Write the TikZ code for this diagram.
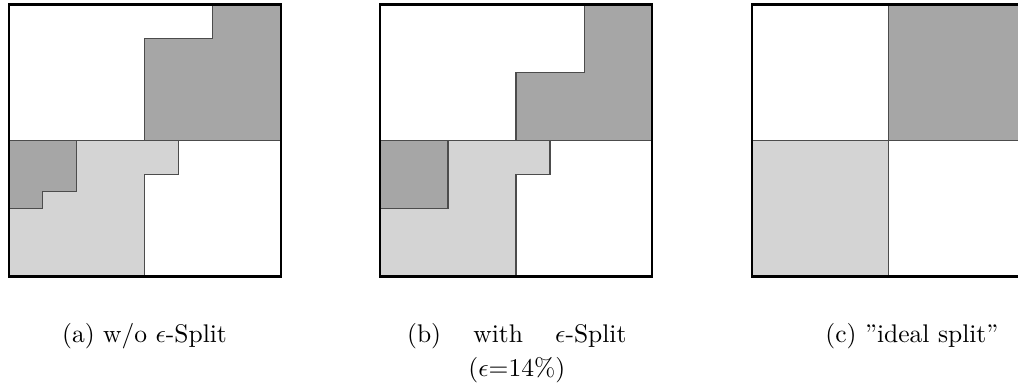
\documentclass[tikz,border=0pt]{standalone}
\usepackage{amsmath}
\usepackage{amssymb}
\usepackage{tikz}
\usetikzlibrary{positioning}
\definecolor{darkcell}{RGB}{166,166,166}
\definecolor{lightcell}{RGB}{212,212,212}
\tikzset{
  region/.style={draw=black!70, line width=0.4pt},
  frame/.style={draw=black, line width=0.9pt},
  subcap/.style={anchor=base, inner sep=0pt, align=center}
}

\begin{document}
\begin{tikzpicture}[x=0.4685cm, y=0.4685cm]
\useasboundingbox (0,0) rectangle (29.94,11.265);

% w/o epsilon split
\begin{scope}[shift={(0.256,11.13)}, yscale=-1]
\filldraw[region, fill=darkcell] (6,0) -- (8,0) -- (8,4) -- (4,4) -- (4,1) -- (6,1) -- cycle;
\filldraw[region, fill=lightcell] (2,4) -- (5,4) -- (5,5) -- (4,5) -- (4,8) -- (0,8) -- (0,6) -- (1,6) -- (1,5.5) -- (2,5.5) -- cycle;
\filldraw[region, fill=darkcell] (0,4) -- (2,4) -- (2,5.5) -- (1,5.5) -- (1,6) -- (0,6) -- cycle;
\draw[region] (0,4) -- (8,4);
\draw[frame] (0,0) rectangle (8,8);
\end{scope}

% with epsilon split
\begin{scope}[shift={(11.176,11.13)}, yscale=-1]
\filldraw[region, fill=darkcell] (6,0) -- (8,0) -- (8,4) -- (4,4) -- (4,2) -- (6,2) -- cycle;
\filldraw[region, fill=lightcell] (2,4) -- (5,4) -- (5,5) -- (4,5) -- (4,8) -- (0,8) -- (0,6) -- (2,6) -- cycle;
\filldraw[region, fill=darkcell] (0,4) rectangle (2,6);
\draw[region] (0,4) -- (8,4);
\draw[frame] (0,0) rectangle (8,8);
\end{scope}

% ideal split
\begin{scope}[shift={(22.118,11.13)}, yscale=-1]
\filldraw[region, fill=darkcell] (4,0) rectangle (8,4);
\filldraw[region, fill=lightcell] (0,4) rectangle (4,8);
\draw[region] (0,4) -- (8,4);
\draw[frame] (0,0) rectangle (8,8);
\end{scope}

% captions (base of the two-line one sits on its last line)
\node[subcap] (capa) at (4.25,1.2) {(a) w/o $\epsilon$-Split};
\node[subcap] (capb) at (15.2,0.2) {\hbox to 86pt{(b)\hfill with\hfill $\epsilon$-Split}\\[1.3pt]($\epsilon$=14\%)};
\node[subcap] (capc) at (26.82,1.2) {(c) ''ideal split''};
\end{tikzpicture}
\end{document}
